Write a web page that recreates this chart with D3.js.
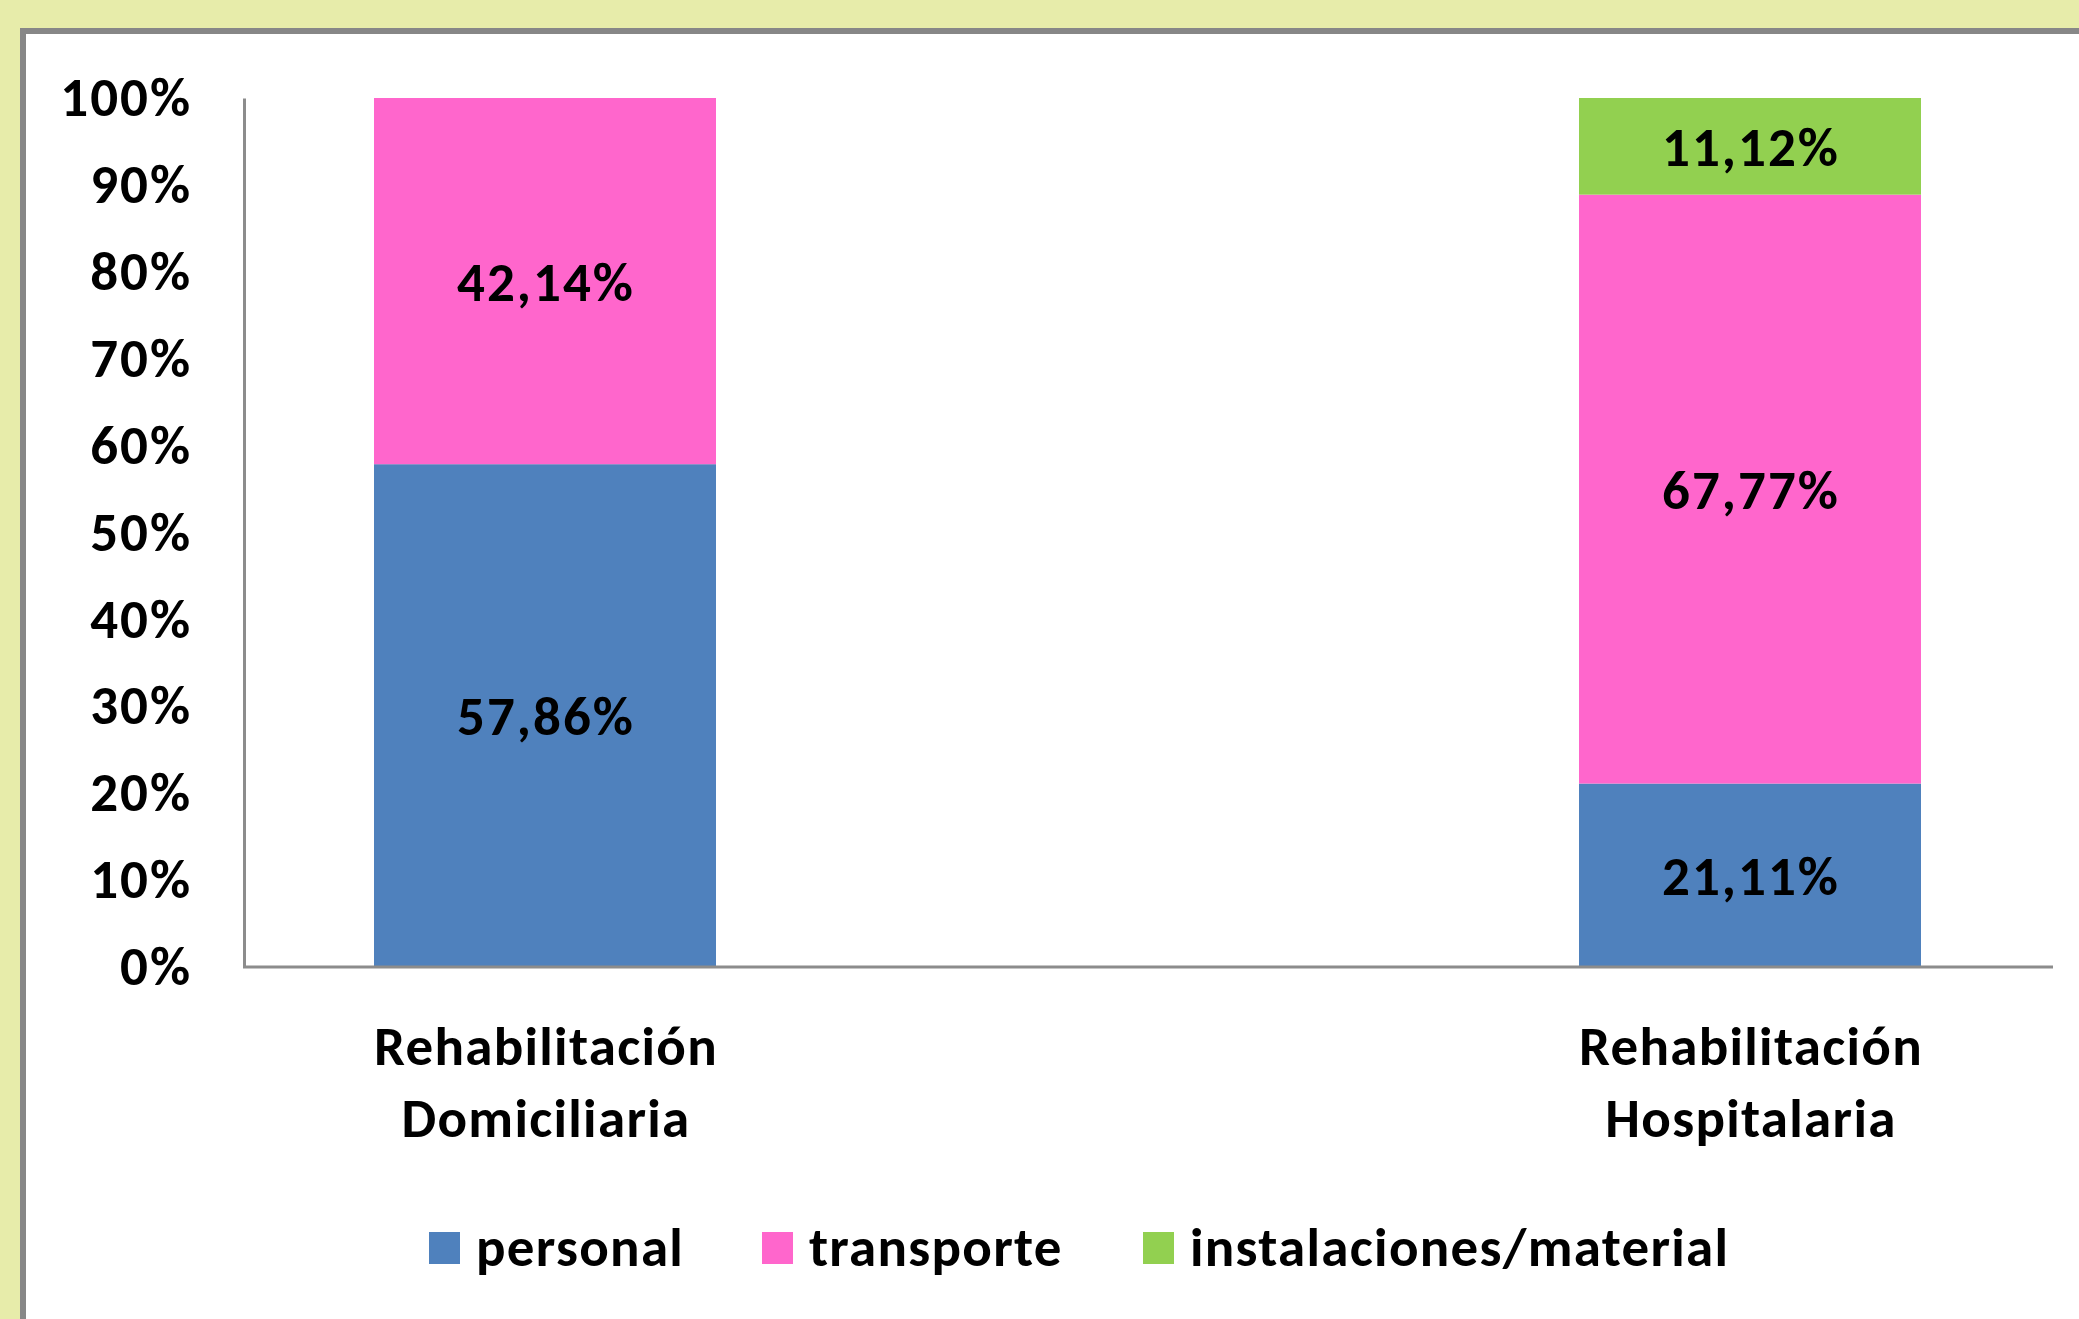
<!DOCTYPE html>
<html>
<head>
<meta charset="utf-8">
<script src="https://cdn.jsdelivr.net/npm/d3@7"></script>
<style>
  html, body { margin: 0; padding: 0; background: #E7ECAA; }
  svg { display: block; }
  text { font-family: Carlito, Lato, "Open Sans", sans-serif; font-weight: 700; fill: #000; }
</style>
</head>
<body>
<script>
const categories = ["Rehabilitación Domiciliaria", "Rehabilitación Hospitalaria"];
const categoryLines = [["Rehabilitación", "Domiciliaria"], ["Rehabilitación", "Hospitalaria"]];
const seriesNames = ["personal", "transporte", "instalaciones/material"];
const personal = [57.86, 21.11];
const transporte = [42.14, 67.77];
const instalaciones = [0, 11.12];
const valueLabels = [["57,86%", "21,11%"], ["42,14%", "67,77%"], ["", "11,12%"]];
const yTicks = [0, 10, 20, 30, 40, 50, 60, 70, 80, 90, 100];
const colors = ["#4F81BD", "#FF66CC", "#92D050"];

const W = 2079, H = 1319;
const svg = d3.select("body").append("svg").attr("width", W).attr("height", H);

// chart panel
svg.append("rect").attr("x", 23).attr("y", 31).attr("width", W + 20).attr("height", H + 20)
  .attr("fill", "#fff").attr("stroke", "#878787").attr("stroke-width", 6);

const rows = categories.map((c, i) => ({ cat: c, personal: personal[i], transporte: transporte[i], instalaciones: instalaciones[i] }));
const keys = ["personal", "transporte", "instalaciones"];
const stacked = d3.stack().keys(keys)(rows);

const y = d3.scaleLinear().domain([0, 100]).range([967, 98]);
const x = d3.scalePoint().domain(categories).range([545, 1750]);
const barW = 342;
const fs = 55;

// bars
stacked.forEach((layer, li) => {
  svg.append("g").selectAll("rect").data(layer).join("rect")
    .attr("x", d => x(d.data.cat) - barW / 2)
    .attr("width", barW)
    .attr("y", d => y(d[1]))
    .attr("height", d => y(d[0]) - y(d[1]))
    .attr("fill", colors[li]);
});

// value labels
stacked.forEach((layer, li) => {
  svg.append("g").selectAll("text").data(layer).join("text")
    .attr("x", d => x(d.data.cat) + 1)
    .attr("y", d => (y(d[0]) + y(d[1])) / 2)
    .attr("dy", "0.36em")
    .attr("text-anchor", "middle")
    .style("font-size", fs + "px")
    .style("letter-spacing", "2px")
    .text((d, i) => (d[1] - d[0]) > 0 ? valueLabels[li][i] : "");
});

// y axis
const yAxis = d3.axisLeft(y).tickValues(yTicks).tickSize(0).tickPadding(52).tickFormat(d => d + "%");
const gy = svg.append("g").attr("transform", "translate(244,0)").call(yAxis);
gy.select(".domain").attr("stroke", "#8C8C8C").attr("stroke-width", 3);
gy.selectAll("text").style("font-size", fs + "px").attr("fill", "#000")
  .style("font-family", "Carlito, Lato, sans-serif").style("font-weight", 700)
  .style("letter-spacing", "2px");

// x axis line
svg.append("line").attr("x1", 243).attr("x2", 2053).attr("y1", y(0)).attr("y2", y(0))
  .attr("stroke", "#8C8C8C").attr("stroke-width", 3);

// category labels
categories.forEach((c, i) => {
  const t = svg.append("text").attr("text-anchor", "middle").style("font-size", fs + "px")
    .style("letter-spacing", "1.3px");
  categoryLines[i].forEach((line, j) => {
    t.append("tspan").attr("x", x(c) + 1).attr("y", 1065 + j * 72).text(line);
  });
});

// legend
const legendX = [429, 762, 1143];
const lg = svg.append("g");
seriesNames.forEach((n, i) => {
  lg.append("rect").attr("x", legendX[i]).attr("y", 1232).attr("width", 31).attr("height", 32).attr("fill", colors[i]);
  lg.append("text").attr("x", legendX[i] + 47).attr("y", 1266).style("font-size", fs + "px")
    .style("letter-spacing", "1.3px").text(n);
});
</script>
</body>
</html>
